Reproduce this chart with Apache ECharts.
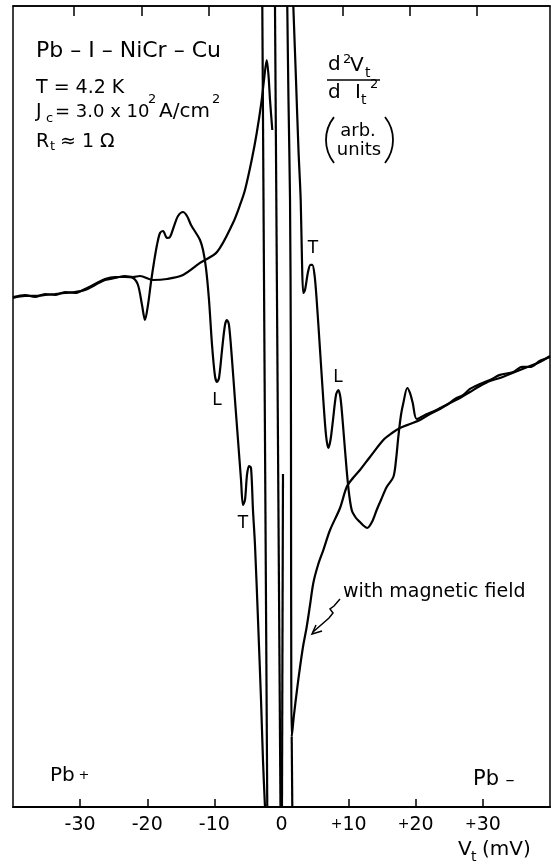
<!DOCTYPE html>
<html><head><meta charset="utf-8">
<script src="https://cdn.jsdelivr.net/npm/echarts@6/dist/echarts.min.js"></script>
<style>html,body{margin:0;padding:0;background:#fff}#c{width:551px;height:865px}</style>
</head><body><div id="c"></div>
<script>
// ---- Data (V_t in mV, d2V/dI2 in arbitrary units, 0..100 full scale) ----
const tickValues = [-30, -20, -10, 10, 20, 30];
const labelValues = [-30, -20, -10, 0, 10, 20, 30];

// curve without magnetic field, negative bias side
const noFieldLeftX = [-40.0,-38.21,-36.72,-35.23,-33.74,-32.25,-30.76,-29.27,-27.78,-26.29,-24.80,-23.31,-22.12,-21.38,-20.78,-20.34,-19.89,-19.44,-18.99,-18.55,-18.10,-17.65,-17.06,-16.61,-16.01,-15.42,-14.67,-14.08,-13.48,-12.74,-12.14,-11.69,-11.25,-10.80,-10.35,-9.91,-9.61,-9.31,-8.86,-8.42,-8.12,-7.82,-7.37,-6.93,-6.48,-6.03,-5.74,-5.44,-5.14,-4.84,-4.54,-4.25,-3.95,-3.50,-3.05,-2.76,-2.46];
const noFieldLeftY = [63.67,63.92,63.67,64.04,63.92,64.29,64.17,64.67,65.29,65.92,66.17,66.17,66.04,65.17,62.67,60.80,62.67,65.54,68.04,70.16,71.66,71.91,71.04,71.16,72.53,73.78,74.28,73.78,72.66,71.66,70.79,69.54,67.29,63.30,57.68,53.81,53.06,53.56,57.05,60.17,60.80,60.17,55.81,50.81,45.82,40.82,37.70,38.33,41.45,42.57,42.32,37.08,32.71,23.35,13.36,5.87,0];

// curve without magnetic field, positive bias side
const noFieldRightX = [1.76,2.16,2.53,2.86,3.05,3.25,3.50,3.95,4.32,4.59,4.92,5.24,5.74,6.23,6.63,6.97,7.30,7.67,8.12,8.46,8.79,9.16,9.46,9.95,10.46,11.10,11.69,12.29,12.78,13.48,14.18,14.82,15.67,16.66,17.06,17.40,17.80,18.15,18.74,19.14,19.55,20.14,21.38,22.42,23.61,24.80,25.85,27.08,28.08,29.57,31.06,32.55,34.53,35.83,37.02,38.51,40.00];
const noFieldRightY = [100,90.76,82.02,75.78,68.29,64.17,64.54,66.79,67.67,67.67,66.42,63.30,57.05,50.81,46.44,44.82,45.82,48.31,51.44,52.06,51.06,47.69,44.57,39.95,37.08,36.08,35.58,35.08,34.83,35.58,37.08,38.33,39.95,41.20,43.32,46.19,48.94,50.44,52.31,51.69,50.44,48.44,48.94,49.31,49.80,50.31,50.95,51.44,52.20,52.81,53.31,53.95,54.31,54.95,54.93,55.70,56.18];

// curve with magnetic field, negative bias side
const fieldLeftX = [-40.0,-38.21,-36.72,-35.23,-33.74,-32.25,-30.76,-29.27,-27.78,-26.29,-24.80,-23.31,-22.12,-21.08,-19.14,-17.06,-14.67,-12.14,-9.61,-7.23,-6.18,-5.44,-4.44,-3.69,-2.95,-2.61,-2.20,-1.94,-1.71,-1.37];
const fieldLeftY = [63.55,63.80,63.80,63.92,64.04,64.17,64.29,64.54,65.17,65.79,66.04,66.29,66.17,66.29,65.79,65.92,66.42,67.92,69.29,72.91,75.16,77.03,80.77,84.14,88.26,90.76,93.26,91.39,88.26,84.52];

// curve with magnetic field, positive bias side
const fieldRightX = [0.86,1.04,1.27,1.39,1.42,1.45,1.52,1.86,2.31,2.76,3.20,3.75,4.25,4.74,5.44,6.23,7.23,8.72,9.71,10.65,11.69,13.18,15.17,16.46,17.65,19.14,20.63,22.12,23.61,25.10,26.59,28.08,29.57,31.06,32.55,34.04,35.53,37.02,38.51,40.00];
const fieldRightY = [100,88.26,75.78,57.05,38.33,19.60,8.74,11.49,14.61,17.48,19.98,22.47,25.22,27.97,30.21,32.08,34.58,37.33,39.95,41.07,42.07,43.70,45.82,46.69,47.32,47.82,48.31,49.06,49.69,50.44,51.06,51.81,52.56,53.18,53.56,54.06,54.56,55.06,55.56,56.30];

// off-scale traces near zero bias (start/end of each segment)
const offScaleX = [[-2.86,-2.12],[-0.97,-0.15],[0.22,0.07],[1.52,1.61]];
const offScaleY = [[100,0],[100,0],[41.57,0],[8.74,0]];

// ---- Chart ----
const zip = (xs, ys) => xs.map((x, i) => [x, ys[i]]);
const FONT = 'DejaVu Sans';
const lineSeries = (xs, ys, smooth) => ({
  type: 'line', xAxisIndex: 0, yAxisIndex: 0, data: zip(xs, ys), showSymbol: false,
  smooth: smooth, lineStyle: { color: '#000', width: 2.2 }, silent: true, animation: false, clip: true
});
const series = [
  lineSeries(noFieldLeftX, noFieldLeftY, 0.3),
  lineSeries(noFieldRightX, noFieldRightY, 0.3),
  lineSeries(fieldLeftX, fieldLeftY, 0.3),
  lineSeries(fieldRightX, fieldRightY, 0.3)
];
offScaleX.forEach((xs, i) => series.push(lineSeries(xs, offScaleY[i], false)));

function txt(x, y, text, size, align) {
  return { type: 'text', x: x, y: y, silent: true,
    style: { text: text, fontSize: size, fontFamily: FONT, fill: '#000',
      align: align || 'left', verticalAlign: 'middle', textAlign: align || 'left', textVerticalAlign: 'middle' } };
}

const graphics = [
  txt(36, 51, 'Pb – I – NiCr – Cu', 22),
  txt(36, 88, 'T = 4.2 K', 19),
  txt(36, 112, 'J', 19), txt(46, 119, 'c', 13), txt(55, 112, '= 3.0 x 10', 18), txt(148, 100, '2', 13),
  txt(159, 112, 'A/cm', 20), txt(212, 100, '2', 13),
  txt(36, 142, 'R', 19), txt(50, 147, 't', 13), txt(60, 142, '≈ 1 Ω', 19),
  // fraction
  txt(328, 65, 'd', 20), txt(343, 60, '2', 13), txt(350, 66, 'V', 20), txt(365, 73, 't', 14),
  { type: 'line', silent: true, shape: { x1: 327, y1: 80, x2: 380, y2: 80 }, style: { stroke: '#000', lineWidth: 1.5 } },
  txt(328, 93, 'd', 20), txt(355, 93, 'I', 20), txt(361, 100, 't', 14), txt(370, 85, '2', 13),
  { type: 'arc', silent: true, shape: { cx: 363, cy: 140, r: 37, startAngle: 2.47, endAngle: 3.81 }, style: { stroke: '#000', lineWidth: 1.8, fill: null } },
  { type: 'arc', silent: true, shape: { cx: 356, cy: 140, r: 37, startAngle: -0.67, endAngle: 0.67 }, style: { stroke: '#000', lineWidth: 1.8, fill: null } },
  txt(358, 131, 'arb.', 18, 'center'), txt(359, 150, 'units', 18, 'center'),
  // peak labels
  txt(313, 249, 'T', 17, 'center'), txt(338, 378, 'L', 17, 'center'),
  txt(217, 401, 'L', 17, 'center'), txt(243, 524, 'T', 17, 'center'),
  // annotation
  txt(343, 592, 'with magnetic field', 19),
  { type: 'polyline', silent: true, shape: { points: [[340,599],[334,606],[330,609],[333,613],[329,618],[313,632]] }, style: { stroke: '#000', lineWidth: 1.5, fill: null } },
  { type: 'polyline', silent: true, shape: { points: [[322,631],[312,634],[316,625]] }, style: { stroke: '#000', lineWidth: 1.5, fill: null } },
  // polarity labels
  txt(50, 776, 'Pb', 20), txt(84, 776, '+', 13, 'center'),
  txt(473, 780, 'Pb', 21), txt(510, 780, '–', 18, 'center'),
  // axis title
  txt(458, 850, 'V', 20), txt(471, 857, 't', 14), txt(482, 850, '(mV)', 20)
];

const chart = echarts.init(document.getElementById('c'), null, { renderer: 'canvas' });
chart.setOption({
  animation: false,
  backgroundColor: '#fff',
  grid: { left: 13, top: 6, width: 537, height: 801, show: true, borderColor: '#000', borderWidth: 1.5, backgroundColor: 'transparent' },
  xAxis: [
    { type: 'value', min: -40, max: 40, interval: 10, position: 'bottom',
      axisLine: { show: true, onZero: false, lineStyle: { color: '#000', width: 2 } },
      axisTick: { show: true, inside: true, length: 8, customValues: tickValues, lineStyle: { color: '#000', width: 1.5 } },
      axisLabel: { show: true, margin: 9, customValues: labelValues, color: '#000', fontFamily: FONT, fontSize: 19,
        formatter: v => v > 0 ? '{p|+}' + v : (v < 0 ? '-' + Math.abs(v) : '0'),
        rich: { p: { fontSize: 14, fontFamily: FONT, color: '#000', padding: [0, 0, 2, 0] } } },
      splitLine: { show: false } },
    { type: 'value', min: -39.11, max: 40.89, interval: 10, position: 'top',
      axisLine: { show: true, onZero: false, lineStyle: { color: '#000', width: 1.5 } },
      axisTick: { show: true, inside: true, length: 10, customValues: tickValues, lineStyle: { color: '#000', width: 1.5 } },
      axisLabel: { show: false }, splitLine: { show: false } }
  ],
  yAxis: { type: 'value', min: 0, max: 100, show: false, splitLine: { show: false } },
  series: series,
  graphic: { elements: graphics }
});
</script></body></html>
